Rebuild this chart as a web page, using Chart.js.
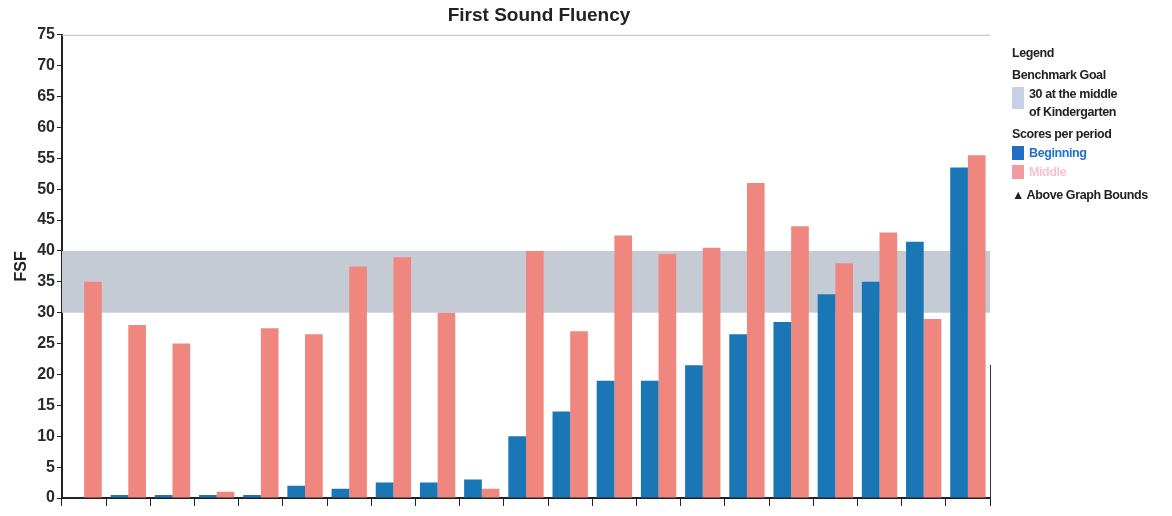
<!DOCTYPE html>
<html lang="en">
<head>
    <meta charset="UTF-8">
    <title>First Sound Fluency</title>
    <script src="https://cdn.jsdelivr.net/npm/chart.js"></script>
    <style>
        body { margin: 0; background: #fff; font-family: "Liberation Sans", Arial, sans-serif; }
        .wrap { position: relative; width: 1172px; height: 516px; }
        #fsf-chart { position: absolute; left: 0; top: 0; }
        .legend { position: absolute; left: 1012px; top: 44px; font-weight: bold; font-size: 12.5px; color: #222; letter-spacing: -0.4px; }
        .legend div { line-height: 19px; }
        .legend .row { display: flex; align-items: flex-start; }
        .legend .sw { width: 12px; height: 14px; margin-right: 5px; margin-top: 2px; }
    </style>
</head>
<body>
<div class="wrap">
    <canvas id="fsf-chart" width="1066" height="516"></canvas>
    <div class="legend">
        <div>Legend</div>
        <div style="margin-top:3px">Benchmark Goal</div>
        <div class="row"><span class="sw" style="background:#c9cfe6;height:22px"></span><span style="line-height:18px">30 at the middle<br>of Kindergarten</span></div>
        <div style="margin-top:4px">Scores per period</div>
        <div class="row"><span class="sw" style="background:#1f6fc4"></span><span style="color:#1f6fd0">Beginning</span></div>
        <div class="row"><span class="sw" style="background:#f19aa0"></span><span style="color:#f5c4cc">Middle</span></div>
        <div style="margin-top:4px">&#9650; Above Graph Bounds</div>
    </div>
</div>

<script>
    // one entry per student
    const students = ['1', '2', '3', '4', '5', '6', '7', '8', '9', '10', '11',
        '12', '13', '14', '15', '16', '17', '18', '19', '20', '21'];
    const beginning = [0, 0.5, 0.5, 0.5, 0.5, 2, 1.5, 2.5, 2.5, 3, 10,
        14, 19, 19, 21.5, 26.5, 28.5, 33, 35, 41.5, 53.5];
    const middle = [35, 28, 25, 1, 27.5, 26.5, 37.5, 39, 30, 1.5, 40,
        27, 42.5, 39.5, 40.5, 51, 44, 38, 43, 29, 55.5];
    const goalBand = [30, 40];
    const yTicks = [0, 5, 10, 15, 20, 25, 30, 35, 40, 45, 50, 55, 60, 65, 70, 75];

    // grey benchmark band behind bars
    const bandPlugin = {
        id: 'band',
        beforeDatasetsDraw(chart) {
            const {ctx, chartArea, scales} = chart;
            const top = scales.y.getPixelForValue(goalBand[1]);
            const bottom = scales.y.getPixelForValue(goalBand[0]);
            ctx.save();
            ctx.fillStyle = '#c5cbd5';
            ctx.fillRect(chartArea.left, top, chartArea.right - chartArea.left, bottom - top);
            ctx.strokeStyle = '#bbbbbb';
            ctx.lineWidth = 1;
            ctx.beginPath();
            ctx.moveTo(chartArea.left, chartArea.top + 0.5);
            ctx.lineTo(chartArea.right, chartArea.top + 0.5);
            ctx.stroke();
            ctx.strokeStyle = '#333';
            ctx.beginPath();
            ctx.moveTo(chartArea.right + 0.5, chartArea.top + 330);
            ctx.lineTo(chartArea.right + 0.5, chartArea.bottom);
            ctx.stroke();
            ctx.restore();
        }
    };

    const ctx = document.getElementById('fsf-chart');
    const fsfChart = new Chart(ctx, {
        type: 'bar',
        data: {
            labels: students,
            datasets: [
                {
                    label: 'Beginning',
                    data: beginning,
                    backgroundColor: '#1b76b6',
                    barPercentage: 1.0,
                    categoryPercentage: 0.8
                },
                {
                    label: 'Middle',
                    data: middle,
                    backgroundColor: '#f0877e',
                    barPercentage: 1.0,
                    categoryPercentage: 0.8
                }
            ]
        },
        options: {
            responsive: false,
            animation: false,
            layout: {padding: {left: 12, right: 0, top: 0, bottom: 10}},
            plugins: {
                legend: {display: false},
                tooltip: {enabled: false},
                title: {
                    display: true,
                    text: 'First Sound Fluency',
                    color: '#222',
                    font: {family: 'Liberation Sans', size: 19, weight: 'bold'},
                    padding: {top: 4, bottom: 8}
                }
            },
            scales: {
                x: {
                    ticks: {display: false},
                    grid: {drawOnChartArea: false, drawTicks: true, tickLength: 8, color: '#222'},
                    border: {color: '#222', width: 2}
                },
                y: {
                    min: 0,
                    max: 75,
                    afterBuildTicks(axis) {
                        axis.ticks = yTicks.map(v => ({value: v}));
                    },
                    ticks: {
                        color: '#2a2a2a',
                        padding: 2,
                        font: {family: 'Liberation Sans', size: 16, weight: 'bold'}
                    },
                    grid: {drawOnChartArea: false, drawTicks: true, tickLength: 5, color: '#222'},
                    border: {color: '#222', width: 2},
                    title: {
                        display: true,
                        text: 'FSF',
                        color: '#222',
                        padding: {top: 0, bottom: 4},
                        font: {family: 'Liberation Sans', size: 16, weight: 'bold'}
                    }
                },
                // empty right-hand space where the legend sits
                side: {
                    position: 'right',
                    min: 0,
                    max: 75,
                    ticks: {display: false},
                    grid: {display: false},
                    border: {display: false},
                    afterFit(axis) {
                        axis.width = 76;
                    }
                }
            }
        },
        plugins: [bandPlugin]
    });
</script>
</body>
</html>
